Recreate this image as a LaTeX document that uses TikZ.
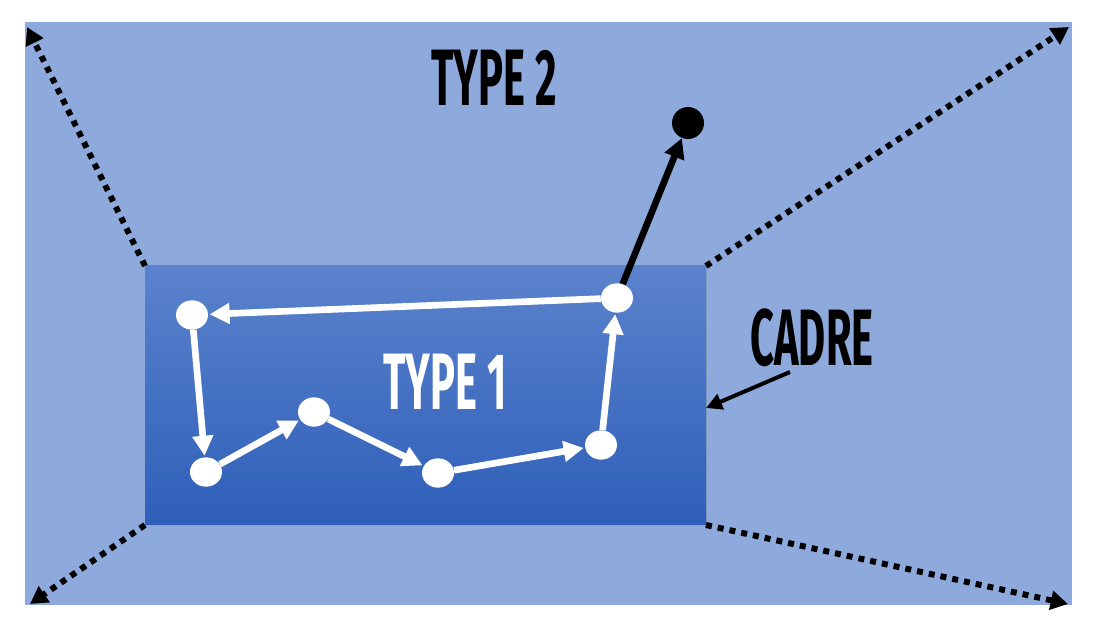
\documentclass[tikz,border=0pt]{standalone}
\usepackage{fontspec}
\setmainfont{Fira Sans}
\usetikzlibrary{arrows.meta,shadows,shapes.geometric}
\definecolor{bgblue}{HTML}{8EAADC}
\definecolor{topblue}{HTML}{5B82CC}
\definecolor{botblue}{HTML}{2E5FB9}
\tikzset{
  lbl/.style={font=\bfseries\fontsize{60}{60}\selectfont, inner sep=0pt, xscale=0.52},
  dotline/.style={line width=4.5pt, dash pattern=on 4.5pt off 4.5pt, -{Triangle[length=13pt,width=14pt]}},
  pt/.style={ellipse, fill=white, minimum width=24pt, minimum height=22pt, inner sep=0pt},
  walk/.style={white, line width=5pt, -{Triangle[length=15pt,width=15pt]}, shorten >=1pt},
}
\begin{document}
\begin{tikzpicture}[x=0.75pt,y=-0.75pt]
\useasboundingbox (0,0) rectangle (1097,630);
\fill[bgblue] (25,22) rectangle (1072,605);
\coordinate (o1) at (27,27);
\coordinate (o2) at (1069,27);
\coordinate (o3) at (30,604);
\coordinate (o4) at (1068,604);
\shade[top color=topblue, bottom color=botblue, drop shadow={opacity=0.3,shadow xshift=1pt,shadow yshift=-1pt}] (145,266) rectangle (706,525);
\coordinate (c1) at (145,266);
\coordinate (c2) at (706,266);
\coordinate (c3) at (145,525);
\coordinate (c4) at (706,525);
\draw[dotline] (c1) -- (o1);
\draw[dotline] (c2) -- (o2);
\draw[dotline] (c3) -- (o3);
\draw[dotline] (c4) -- (o4);
\node[pt] (A) at (192,315) {};
\node[pt] (B) at (206,472) {};
\node[pt] (C) at (314,412) {};
\node[pt] (D) at (438,473) {};
\node[pt] (E) at (601,445) {};
\node[pt] (F) at (617,298) {};
\node[circle, fill=black, minimum size=24pt, inner sep=0pt] (G) at (688,123) {};
\draw[walk] (F) -- (A);
\draw[walk] (A) -- (B);
\draw[walk] (B) -- (C);
\draw[walk] (C) -- (D);
\draw[walk] (D) -- (E);
\draw[walk] (E) -- (F);
\draw[line width=5pt, -{Triangle[length=15pt,width=15pt]}] (F) -- (G);
\node[lbl] (t2) at (494,78) {TYPE 2};
\node[lbl, white] (t1) at (445,382) {TYPE 1};
\node[lbl] (cadre) at (812,338) {CADRE};
\coordinate (ca) at (790,372);
\draw[line width=3pt, -{Triangle[length=12pt,width=12pt]}] (ca) -- (c4 |- 0,408);
\end{tikzpicture}
\end{document}
